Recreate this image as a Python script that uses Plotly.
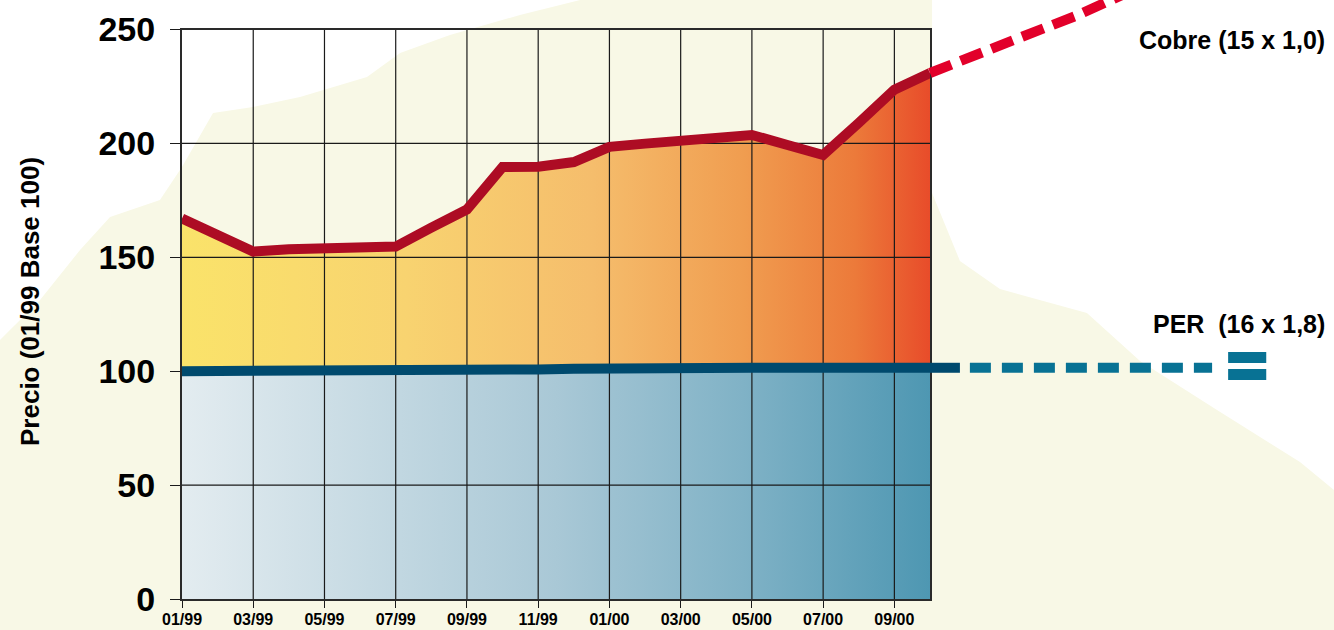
import plotly.graph_objects as go

# ---------------- data ----------------
months = ["01/99", "02/99", "03/99", "04/99", "05/99", "06/99", "07/99", "08/99",
          "09/99", "10/99", "11/99", "12/99", "01/00", "02/00", "03/00", "04/00",
          "05/00", "06/00", "07/00", "08/00", "09/00", "10/00"]
cobre = [167, 160, 152.5, 153.5, 154.2, 154.7, 154.7, 163, 171, 189.6, 189.8,
         191.8, 198.5, 199.9, 201.2, 202.5, 203.7, 199.3, 194.9, 209, 223.6, 230.9]
per = [100, 100, 100, 100, 100, 100, 100, 100, 100, 100.4, 100.8, 101.1,
       101.4, 101.5, 101.5, 101.5, 101.5, 101.5, 101.5, 101.5, 101.5, 101.5]

# projections beyond the last month (x in months from 01/99)
cobre_proj_x = [21, 22.9, 23.45, 25.1, 26.8]
cobre_proj_y = [230.9, 243.5, 246, 256, 268]
per_ext_x = [21, 21.84]
per_ext_y = [101.5, 101.5]
per_proj_x = [22.12, 28.92]
per_proj_y = [101.5, 101.5]
eq_x = [29.37, 30.44]
eq_top = [106, 106]
eq_bot = [98.6, 98.6]

y_ticks = [0, 50, 100, 150, 200, 250]
x_idx = list(range(len(months)))
x_ticks = x_idx[::2]
x_ticktext = months[::2]

# ---------------- layout geometry ----------------
W, H = 1334, 630
PL, PR, PT, PB = 182, 930, 29.5, 599
FONT = "Liberation Sans, Arial, sans-serif"
xmax = x_idx[-1]
ymax = y_ticks[-1]
mpp = xmax / (PR - PL)
upp = ymax / (PB - PT)
x2range = [-PL * mpp, xmax + (W - PR) * mpp]
y2range = [-(H - PB) * upp, ymax + PT * upp]

fig = go.Figure()

# background cream texture (decorative)
bg_px = [(0, 630), (0, 340), (40, 300), (80, 250), (110, 217), (160, 200), (182, 167),
         (213, 113), (253, 107), (300, 97), (367, 77), (400, 53), (450, 35), (520, 15),
         (580, 0), (932, 0), (932, 193), (960, 261), (1000, 289), (1087, 313),
         (1140, 361), (1217, 410), (1300, 462), (1334, 490), (1334, 630)]
path = "M " + " L ".join(f"{px / W:.4f},{1 - py / H:.4f}" for px, py in bg_px) + " Z"
fig.add_shape(type="path", path=path, xref="paper", yref="paper",
              fillcolor="#f8f8e6", line=dict(width=0), layer="below")

# fills
fig.add_trace(go.Scatter(
    x=x_idx, y=per, mode="lines", line=dict(width=0), fill="tozeroy",
    fillgradient=dict(type="horizontal",
                      colorscale=[[0, "#e3ecf0"], [0.5, "#a9c8d6"], [0.75, "#80b2c6"], [1, "#4e97b2"]]),
    hoverinfo="skip", showlegend=False))
fig.add_trace(go.Scatter(
    x=x_idx, y=cobre, mode="lines", line=dict(width=0), fill="tonexty",
    fillgradient=dict(type="horizontal",
                      colorscale=[[0, "#fae36a"], [0.3, "#f8d370"], [0.55, "#f5bd6c"],
                                  [0.75, "#f09d50"], [0.9, "#ec7a3a"], [1, "#e84c2a"]]),
    hoverinfo="skip", showlegend=False))

# grid lines (drawn above fills, below lines)
gx, gy = [], []
for t in x_ticks[1:]:
    gx += [t, t, None]
    gy += [y_ticks[0], y_ticks[-1], None]
for v in y_ticks[1:-1]:
    gx += [x_idx[0], xmax, None]
    gy += [v, v, None]
fig.add_trace(go.Scatter(x=gx, y=gy, mode="lines", line=dict(color="#1a1a1a", width=1.2),
                         hoverinfo="skip", showlegend=False))

# main lines
fig.add_trace(go.Scatter(x=x_idx, y=per, mode="lines",
                         line=dict(color="#004a6e", width=10), showlegend=False))
fig.add_trace(go.Scatter(x=x_idx, y=cobre, mode="lines",
                         line=dict(color="#ad0c24", width=10), showlegend=False))

# extensions on a full-figure overlay subplot
fig.add_trace(go.Scatter(x=per_ext_x, y=per_ext_y, mode="lines", xaxis="x2", yaxis="y2",
                         line=dict(color="#004a6e", width=10), showlegend=False))
fig.add_trace(go.Scatter(x=per_proj_x, y=per_proj_y, mode="lines", xaxis="x2", yaxis="y2",
                         line=dict(color="#087294", width=10, dash="21px,11px"), showlegend=False))
fig.add_trace(go.Scatter(x=eq_x, y=eq_top, mode="lines", xaxis="x2", yaxis="y2",
                         line=dict(color="#087294", width=11), showlegend=False))
fig.add_trace(go.Scatter(x=eq_x, y=eq_bot, mode="lines", xaxis="x2", yaxis="y2",
                         line=dict(color="#087294", width=11), showlegend=False))
fig.add_trace(go.Scatter(x=cobre_proj_x, y=cobre_proj_y, mode="lines", xaxis="x2", yaxis="y2",
                         line=dict(color="#e2002a", width=10, dash="23px,10px"), showlegend=False))

fig.update_layout(
    width=W, height=H,
    margin=dict(l=0, r=0, t=0, b=0),
    paper_bgcolor="white", plot_bgcolor="rgba(0,0,0,0)",
    showlegend=False,
    font=dict(family=FONT, color="black"),
    xaxis=dict(domain=[PL / W, PR / W], range=[x_idx[0], xmax], tickvals=x_ticks,
               ticktext=x_ticktext, ticks="outside", ticklen=7, tickcolor="#1a1a1a",
               showgrid=False, zeroline=False, showline=True, mirror=True,
               linecolor="#2a2a2a", linewidth=2, automargin=False, ticklabelstandoff=-2,
               tickfont=dict(family=FONT, size=16, weight="bold", color="black")),
    yaxis=dict(domain=[1 - PB / H, 1 - PT / H], range=[y_ticks[0], ymax], tickvals=y_ticks,
               ticks="outside", ticklen=10, tickcolor="#1a1a1a",
               showgrid=False, zeroline=False, showline=True, mirror=True,
               linecolor="#2a2a2a", linewidth=2, automargin=False, ticklabelstandoff=8,
               tickfont=dict(family=FONT, size=34, weight="bold", color="black")),
    xaxis2=dict(domain=[0, 1], range=x2range, visible=False, anchor="y2",
                showgrid=False, zeroline=False),
    yaxis2=dict(domain=[0, 1], range=y2range, visible=False, anchor="x2",
                showgrid=False, zeroline=False),
    annotations=[
        dict(text="Precio (01/99 Base 100)", x=30 / W, y=1 - 302 / H, xref="paper", yref="paper",
             textangle=-90, showarrow=False, xanchor="center", yanchor="middle",
             font=dict(family=FONT, size=26, weight="bold", color="black")),
        dict(text="Cobre (15 x 1,0)", x=1327 / W, y=1 - 40 / H, xref="paper", yref="paper",
             showarrow=False, xanchor="right", yanchor="middle",
             font=dict(family=FONT, size=25, weight="bold", color="black")),
        dict(text="PER&nbsp;&nbsp;(16 x 1,8)", x=1327 / W, y=1 - 324 / H, xref="paper", yref="paper",
             showarrow=False, xanchor="right", yanchor="middle",
             font=dict(family=FONT, size=25, weight="bold", color="black")),
    ],
)

fig.write_html("out.html", config={"displayModeBar": False},
               post_script="document.body.style.margin='0';document.body.style.overflow='hidden';")
